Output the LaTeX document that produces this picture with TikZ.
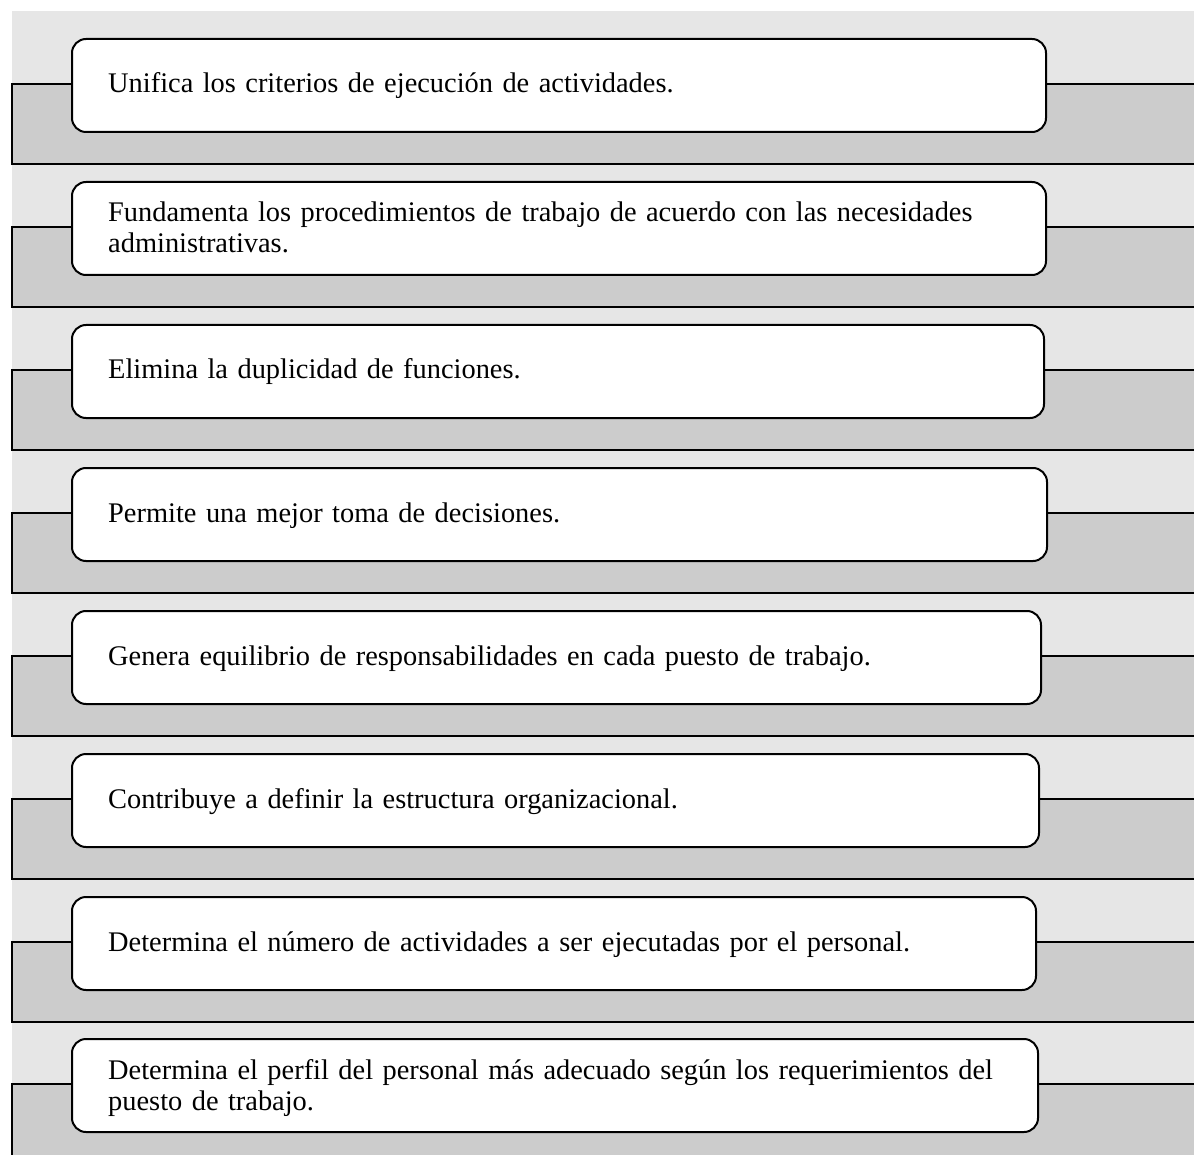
\documentclass[tikz,border=0pt]{standalone}
\usepackage{fontspec}
\setmainfont{Liberation Serif}
\definecolor{bgl}{HTML}{E6E6E6}
\definecolor{band}{HTML}{CCCCCC}
\tikzset{
  itembox/.style={draw=black, line width=2pt, fill=white, rounded corners=14pt, inner sep=0pt, anchor=north west},
  itemtext/.style={inner sep=0pt, anchor=base west, text width=940pt, align=left, font=\fontsize{28.4}{31}\selectfont},
}
\begin{document}
\begin{tikzpicture}[x=1pt,y=-1pt]
\useasboundingbox (0,0) rectangle (1194,1155);
\fill[white] (0,0) rectangle (1194,1155);
\fill[bgl] (12,11) rectangle (1194,1155);
% bands
\foreach \t in {38,181,324,467,610,753,896}{
  \fill[band] (12,\t+46) rectangle (1200,\t+126);
  \draw[line width=2pt] (1200,\t+46) -- (12,\t+46) -- (12,\t+126) -- (1200,\t+126);
}
\fill[band] (12,1084) rectangle (1200,1160);
\draw[line width=2pt] (1200,1084) -- (12,1084) -- (12,1160);
% boxes
\node[itembox, minimum width=974pt, minimum height=93pt] (b1) at (71,38) {};
\node[itembox, minimum width=974pt, minimum height=93pt] (b2) at (71,181) {};
\node[itembox, minimum width=972pt, minimum height=93pt] (b3) at (71,324) {};
\node[itembox, minimum width=975pt, minimum height=93pt] (b4) at (71,467) {};
\node[itembox, minimum width=969pt, minimum height=93pt] (b5) at (71,610) {};
\node[itembox, minimum width=967pt, minimum height=93pt] (b6) at (71,753) {};
\node[itembox, minimum width=964pt, minimum height=93pt] (b7) at (71,896) {};
\node[itembox, minimum width=966pt, minimum height=93pt] (b8) at (71,1038) {};
% texts
\node[itemtext] (t1) at (108,93) {Unifica los criterios de ejecución de actividades.};
\node[itemtext] (t2) at (108,222) {Fundamenta los procedimientos de trabajo de acuerdo con las necesidades\\administrativas.};
\node[itemtext] (t3) at (108,379) {Elimina la duplicidad de funciones.};
\node[itemtext] (t4) at (108,522) {Permite una mejor toma de decisiones.};
\node[itemtext] (t5) at (108,665) {Genera equilibrio de responsabilidades en cada puesto de trabajo.};
\node[itemtext] (t6) at (108,808) {Contribuye a definir la estructura organizacional.};
\node[itemtext] (t7) at (108,951) {Determina el número de actividades a ser ejecutadas por el personal.};
\node[itemtext] (t8) at (108,1079) {Determina el perfil del personal más adecuado según los requerimientos del\\puesto de trabajo.};
\end{tikzpicture}
\end{document}
